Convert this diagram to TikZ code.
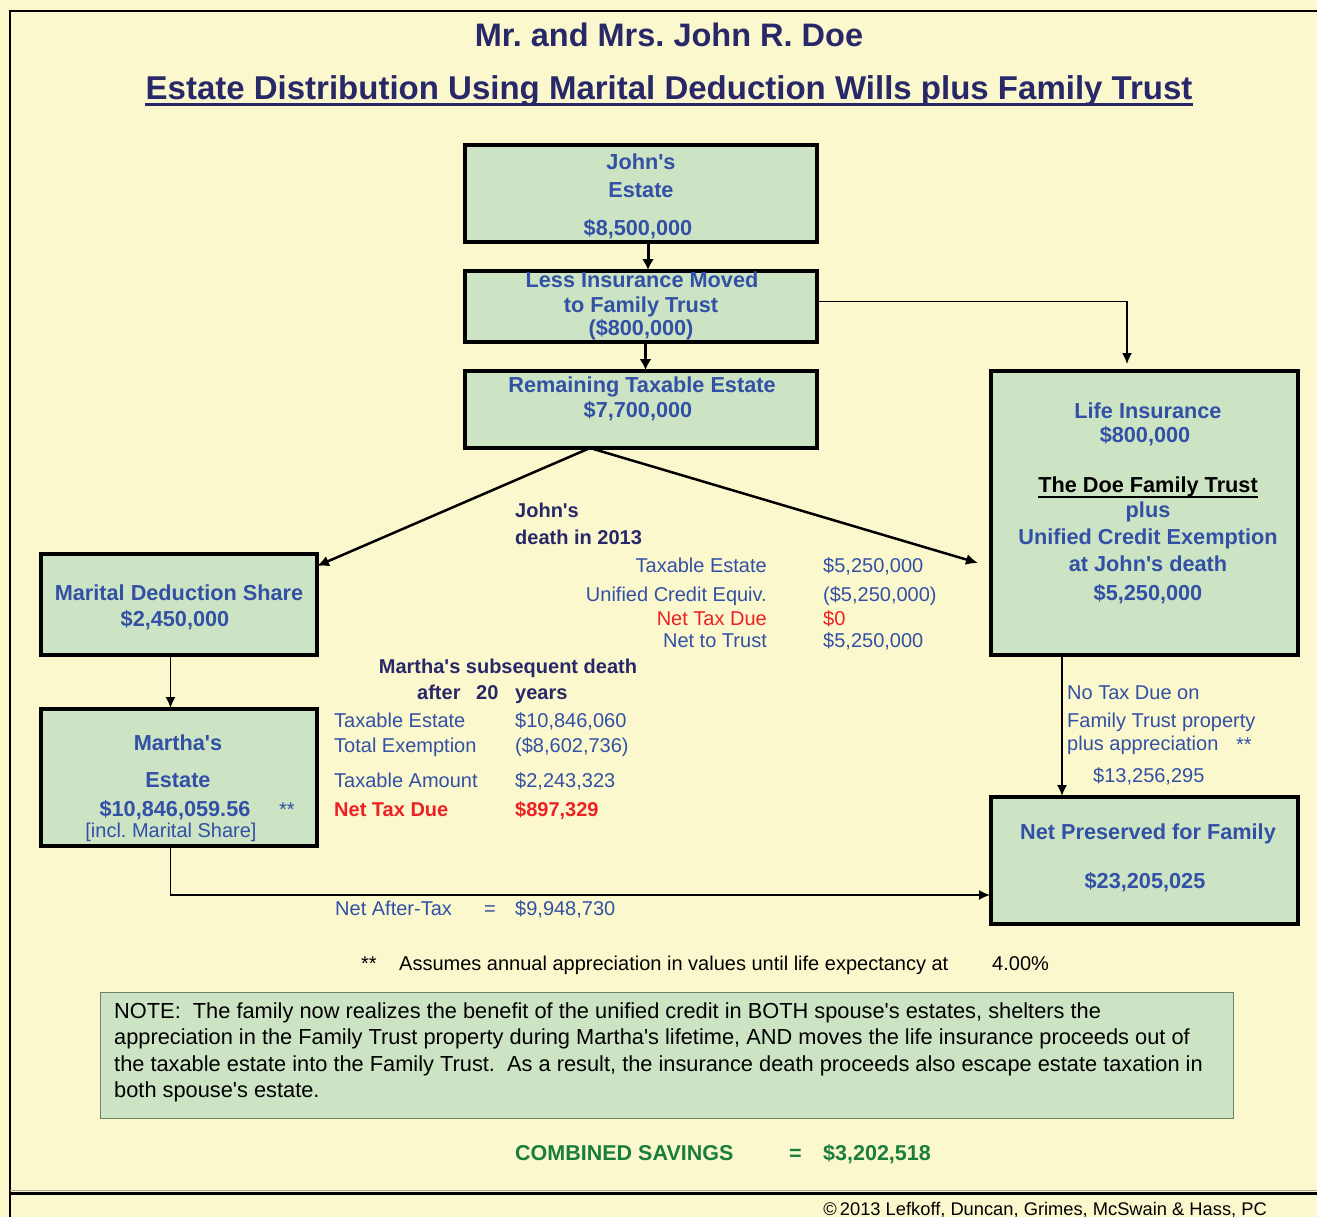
\documentclass[tikz,border=0pt]{standalone}
\usepackage{fontspec}
\setmainfont{Liberation Sans}
\usetikzlibrary{arrows.meta,calc}
\definecolor{bgc}{RGB}{251,248,206}
\definecolor{boxc}{RGB}{204,228,195}
\definecolor{tblue}{RGB}{50,80,165}
\definecolor{navy}{RGB}{40,40,105}
\definecolor{tred}{RGB}{238,32,36}
\definecolor{tgreen}{RGB}{25,125,60}
\definecolor{notebd}{RGB}{110,130,100}
\newcommand{\sq}{\textquotesingle}
\frenchspacing
\begin{document}
\begin{tikzpicture}[x=1pt,y=-1pt,
  box/.style={draw=black,fill=boxc,line width=3.5pt,anchor=north west,inner sep=0,outer sep=0},
  heavybox/.style={box,line width=4.5pt},
  bb/.style={font=\fontsize{21.7}{26}\selectfont\bfseries,text=tblue,inner sep=0,anchor=base},
  rg/.style={font=\fontsize{20}{24}\selectfont,text=tblue,inner sep=0,anchor=base west},
  rge/.style={rg,anchor=base east},
  hd/.style={font=\fontsize{20}{24}\selectfont\bfseries,text=navy,inner sep=0,anchor=base west},
  bk/.style={font=\fontsize{20}{24}\selectfont,text=black,inner sep=0,anchor=base west},
  nt/.style={bk,font=\fontsize{21.8}{26}\selectfont},
  ttl/.style={font=\fontsize{33}{40}\selectfont\bfseries,text=navy,inner sep=0,anchor=base},
  arr/.style={-{Latex[length=11pt,width=12pt]},line width=3pt,shorten >=1pt},
  diag/.style={-{Latex[length=12pt,width=11pt]},line width=2.5pt},
  thinarr/.style={-{Latex[length=11pt,width=10pt]},line width=1.6pt,shorten >=1pt},
]
\clip (0,0) rectangle (1317,1217);
\fill[bgc] (0,0) rectangle (1317,1217);
% frame
\draw[line width=2pt] (10,1217) -- (10,11) -- (1317,11);
\draw[line width=1pt,gray!70] (10,1190.5) -- (1317,1190.5);
\draw[line width=3pt] (10,1193.5) -- (1317,1193.5);

% titles
\node[ttl,font=\fontsize{32.5}{40}\selectfont\bfseries] (title) at (669,47) {Mr. and Mrs. John R. Doe};
\node[ttl] (subtitle) at (669,100) {Estate Distribution Using Marital Deduction Wills plus Family Trust};
\draw[navy,line width=3pt] ([yshift=-4.5pt]subtitle.base west) -- ([yshift=-4.5pt]subtitle.base east);

% boxes
\node[box,minimum width=352pt,minimum height=97pt] (je) at (465,145) {};
\node[heavybox,minimum width=352pt,minimum height=71pt] (li) at (465,271) {};
\node[box,minimum width=352pt,minimum height=77pt] (rt) at (465,371) {};
\node[heavybox,minimum width=307pt,minimum height=284pt] (life) at (991,371) {};
\node[box,minimum width=276pt,minimum height=101pt] (md) at (41,554) {};
\node[heavybox,minimum width=276pt,minimum height=137pt] (me) at (41,709) {};
\node[heavybox,minimum width=307pt,minimum height=127pt] (np) at (991,797) {};
\node[draw=notebd,fill=boxc,line width=1pt,anchor=north west,inner sep=0,minimum width=1133pt,minimum height=126pt] (note) at (100,992) {};

% box texts
\node[bb] (je1) at (641,170) {John\sq s};
\node[bb] (je2) at (641,198) {Estate};
\node[bb] (je3) at (638,236) {\$8,500,000};
\node[bb] (li1) at (642,287) {Less Insurance Moved};
\node[bb] (li2) at (641,312) {to Family Trust};
\node[bb] (li3) at (641,335) {(\$800,000)};
\node[bb] (rt1) at (642,392) {Remaining Taxable Estate};
\node[bb] (rt2) at (638,417) {\$7,700,000};
\node[bb] (lf1) at (1148,418) {Life Insurance};
\node[bb] (lf2) at (1145,442) {\$800,000};
\node[bb,text=black] (lf3) at (1148,492) {The Doe Family Trust};
\draw[line width=1.6pt] ([yshift=-5pt]lf3.base west) -- ([yshift=-5pt]lf3.base east);
\node[bb] (lf4) at (1148,517) {plus};
\node[bb] (lf5) at (1148,544) {Unified Credit Exemption};
\node[bb] (lf6) at (1148,571) {at John\sq s death};
\node[bb] (lf7) at (1148,600) {\$5,250,000};
\node[bb] (md1) at (179,600) {Marital Deduction Share};
\node[bb] (md2) at (175,626) {\$2,450,000};
\node[bb] (me1) at (178,750) {Martha\sq s};
\node[bb] (me2) at (178,787) {Estate};
\node[bb] (me3) at (175,816) {\$10,846,059.56};
\node[rg] (me4) at (279,816) {**};
\node[rg,anchor=base] (me5) at (171,837) {[incl. Marital Share]};
\node[bb] (np1) at (1148,839) {Net Preserved for Family};
\node[bb] (np2) at (1145,888) {\$23,205,025};

% John's death table
\node[hd] (jd1) at (515,517) {John\sq s};
\node[hd] (jd2) at (515,544) {death in 2013};
\node[rge] (ta1) at (767,572) {Taxable Estate};
\node[rge] (ta2) at (767,601) {Unified Credit Equiv.};
\node[rge,text=tred] (ta3) at (767,625) {Net Tax Due};
\node[rge] (ta4) at (767,647) {Net to Trust};
\node[rg] (tv1) at (823,572) {\$5,250,000};
\node[rg] (tv2) at (823,601) {(\$5,250,000)};
\node[rg,text=tred] (tv3) at (823,625) {\$0};
\node[rg] (tv4) at (823,647) {\$5,250,000};

% Martha's death table
\node[hd,anchor=base] (md3) at (508,673) {Martha\sq s subsequent death};
\node[hd] (af1) at (417,699) {after};
\node[hd] (af2) at (476,699) {20};
\node[hd] (af3) at (515,699) {years};
\node[rg] (mb1) at (334,727) {Taxable Estate};
\node[rg] (mb2) at (334,752) {Total Exemption};
\node[rg] (mb3) at (334,787) {Taxable Amount};
\node[hd,text=tred] (mb4) at (334,816) {Net Tax Due};
\node[rg] (mv1) at (515,727) {\$10,846,060};
\node[rg] (mv2) at (515,752) {(\$8,602,736)};
\node[rg] (mv3) at (515,787) {\$2,243,323};
\node[hd,text=tred] (mv4) at (515,816) {\$897,329};

% right column
\node[rg] (nt1) at (1067,699) {No Tax Due on};
\node[rg] (nt2) at (1067,727) {Family Trust property};
\node[rg] (nt3) at (1067,750) {plus appreciation};
\node[rg] (nt4) at (1236,751) {**};
\node[rg] (nt5) at (1093,782) {\$13,256,295};

% net after tax
\node[rg] (na1) at (335,915) {Net After-Tax};
\node[rg] (na2) at (484,915) {=};
\node[rg] (na3) at (515,915) {\$9,948,730};

% assumption
\node[bk] (as1) at (361,970) {**};
\node[bk] (as2) at (399,970) {Assumes annual appreciation in values until life expectancy at};
\node[bk] (as3) at (992,970) {4.00\%};

% note
\node[nt] (n1) at (114,1018) {NOTE:\ \ The family now realizes the benefit of the unified credit in BOTH spouse\sq s estates, shelters the};
\node[nt] (n2) at (114,1044) {appreciation in the Family Trust property during Martha\sq s lifetime, AND moves the life insurance proceeds out of};
\node[nt] (n3) at (114,1071) {the taxable estate into the Family Trust.\ \ As a result, the insurance death proceeds also escape estate taxation in};
\node[nt] (n4) at (114,1097) {both spouse\sq s estate.};

% combined savings
\node[hd,text=tgreen,font=\fontsize{21.5}{26}\selectfont\bfseries] (cs1) at (515,1160) {COMBINED SAVINGS};
\node[hd,text=tgreen,font=\fontsize{21.5}{26}\selectfont\bfseries] (cs2) at (789,1160) {=};
\node[hd,text=tgreen,font=\fontsize{21.5}{26}\selectfont\bfseries] (cs3) at (823,1160) {\$3,202,518};

% copyright
\node[bk,anchor=base east,font=\fontsize{18.3}{22}\selectfont] (cr) at (1267,1215) {\textcopyright\,2013 Lefkoff, Duncan, Grimes, McSwain \& Hass, PC};

% connectors
\coordinate (split) at (590,448);
\coordinate (lifein) at (1127,364);
\coordinate (lifeleft) at (978,563);
\draw[arr] ([xshift=7pt]je.south) -- ([xshift=7pt]li.north);
\draw[arr] ([xshift=4.5pt]li.south) -- ([xshift=4.5pt]rt.north);
\draw[thinarr,shorten >=0pt] ([yshift=5pt]li.east) -| (lifein);
\draw[diag] (split) -- ([yshift=-12pt]md.north east);
\draw[diag] (split) -- (lifeleft);
\draw[thinarr] ([xshift=-8.5pt]md.south) -- ([xshift=-8.5pt]me.north);
\draw[thinarr] ([xshift=-8.5pt]me.south) |- ([yshift=-34.5pt]np.west);
\draw[thinarr] ([xshift=-82.5pt]life.south) -- ([xshift=-82.5pt]np.north);
\end{tikzpicture}
\end{document}
